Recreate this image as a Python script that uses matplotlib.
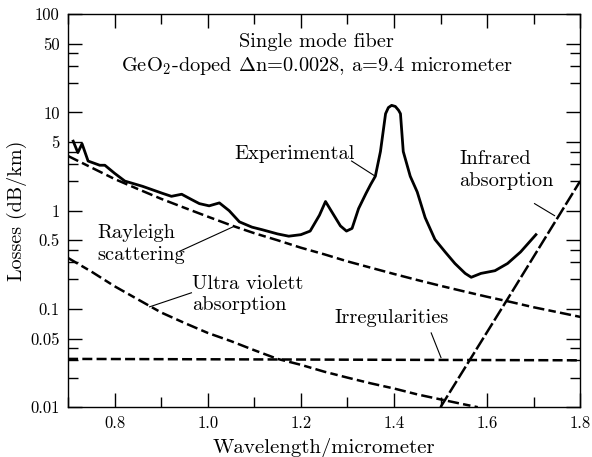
import numpy as np
import matplotlib
matplotlib.use("Agg")
import matplotlib.pyplot as plt
from matplotlib.ticker import FixedLocator, NullFormatter

plt.rcParams['font.family'] = ['cmr10', 'DejaVu Serif']
plt.rcParams['mathtext.fontset'] = 'cm'
plt.rcParams['axes.unicode_minus'] = False

exp_wl = [0.711, 0.721, 0.730, 0.743, 0.768, 0.779, 0.800, 0.822, 0.860, 0.903,
          0.922, 0.944, 0.965, 0.982, 1.003, 1.025, 1.046, 1.068, 1.095, 1.117, 1.150,
          1.174, 1.200, 1.220, 1.240, 1.253, 1.265, 1.285, 1.298, 1.310, 1.324,
          1.340, 1.350, 1.360, 1.371, 1.382, 1.388, 1.395, 1.403, 1.410, 1.414,
          1.420, 1.435, 1.450, 1.467, 1.488, 1.510, 1.531, 1.553, 1.566, 1.587,
          1.617, 1.644, 1.672, 1.705]
exp_loss = [5.1, 3.9, 4.8, 3.2, 2.9, 2.9, 2.4, 2.0, 1.77, 1.5,
            1.4, 1.47, 1.3, 1.18, 1.12, 1.2, 1.0, 0.77, 0.68, 0.64, 0.58,
            0.55, 0.57, 0.62, 0.9, 1.24, 1.0, 0.7, 0.62, 0.66, 1.05,
            1.5, 1.85, 2.24, 4.0, 9.7, 11.2, 11.8, 11.5, 10.5, 9.7,
            4.0, 2.24, 1.55, 0.85, 0.51, 0.38, 0.29, 0.23, 0.21, 0.23,
            0.245, 0.29, 0.38, 0.57]

ray_wl = [0.70, 0.75, 0.80, 0.85, 0.90, 0.95, 1.00, 1.05, 1.10, 1.15, 1.20, 1.25,
          1.30, 1.35, 1.40, 1.45, 1.50, 1.55, 1.60, 1.65, 1.70, 1.75, 1.80]
ray_loss = [3.6, 2.75, 2.1, 1.66, 1.32, 1.07, 0.87, 0.71, 0.59, 0.50, 0.42, 0.36,
            0.305, 0.263, 0.227, 0.197, 0.172, 0.151, 0.133, 0.118, 0.104, 0.093, 0.083]

uv_wl = [0.70, 0.75, 0.80, 0.85, 0.90, 0.95, 1.00, 1.05, 1.10, 1.15, 1.20, 1.25,
         1.30, 1.35, 1.40, 1.45, 1.50, 1.55, 1.58]
uv_loss = [0.33, 0.24, 0.17, 0.125, 0.092, 0.072, 0.057, 0.047, 0.038, 0.031, 0.027,
           0.023, 0.020, 0.0175, 0.0155, 0.0135, 0.012, 0.0107, 0.0100]

irr_wl = [0.70, 1.80]
irr_loss = [0.031, 0.030]

ir_wl = [1.50, 1.65, 1.80]
ir_loss = [0.01, 0.14, 2.0]

xticks = [0.8, 1.0, 1.2, 1.4, 1.6, 1.8]
yticks = [0.01, 0.05, 0.1, 0.5, 1, 5, 10, 50, 100]
ylabels = ['0.01', '0.05', '0.1', '0.5', '1', '5', '10', '50', '100']

fig = plt.figure(figsize=(5.92, 4.57), dpi=100)
ax = fig.add_axes([0.115, 0.109, 0.865, 0.860])

ax.plot(exp_wl, exp_loss, color='black', lw=2.0, solid_joinstyle='round')
ax.plot(ray_wl, ray_loss, color='black', lw=1.8, dashes=(4.5, 1.7, 3, 1.7))
ax.plot(uv_wl, uv_loss, color='black', lw=1.8, dashes=(4.5, 1.7, 3, 1.7))
ax.plot(irr_wl, irr_loss, color='black', lw=1.8, dashes=(4, 1.7))
ax.plot(ir_wl, ir_loss, color='black', lw=1.8, dashes=(5.5, 1.3))

ax.set_yscale('log')
ax.set_xlim(0.7, 1.8)
ax.set_ylim(0.01, 100)

ax.set_xticks(xticks)
ax.set_xticklabels(['%.1f' % v for v in xticks])
ax.xaxis.set_minor_locator(FixedLocator(np.arange(0.7, 1.81, 0.1)))
ax.yaxis.set_major_locator(FixedLocator(yticks))
ax.set_yticklabels(ylabels)
minor_y = [m * d for d in [0.01, 0.1, 1, 10] for m in (2, 3, 4)]
ax.yaxis.set_minor_locator(FixedLocator(minor_y))
ax.yaxis.set_minor_formatter(NullFormatter())
ax.tick_params(which='both', direction='in', top=True, right=True, labelsize=12)
ax.tick_params(which='major', length=10, width=1, pad=6)
ax.tick_params(which='minor', length=7, width=1)
for s in ax.spines.values():
    s.set_linewidth(1)

ax.set_xlabel('Wavelength/micrometer', fontsize=15, labelpad=5)
ax.set_ylabel('Losses (dB/km)', fontsize=14.5, labelpad=2)

fs = 14.7
ax.text(1.234, 52, 'Single mode fiber', ha='center', va='center', fontsize=fs)
ax.text(1.234, 30, r'GeO$_2$-doped $\Delta$n=0.0028, a=9.4 micrometer',
        ha='center', va='center', fontsize=fs)
ax.text(1.187, 3.8, 'Experimental', ha='center', va='center', fontsize=fs)
ax.plot([1.309, 1.360], [3.2, 2.24], color='black', lw=0.8)
ax.text(1.540, 2.6, 'Infrared\nabsorption', ha='left', va='center', fontsize=fs,
        linespacing=1.25)
ax.plot([1.702, 1.745], [1.18, 0.89], color='black', lw=0.8)
ax.text(0.762, 0.46, 'Rayleigh\nscattering', ha='left', va='center', fontsize=fs,
        linespacing=1.25)
ax.plot([0.939, 1.053], [0.385, 0.68], color='black', lw=0.8)
ax.text(0.967, 0.14, 'Ultra violett\nabsorption', ha='left', va='center', fontsize=fs,
        linespacing=1.25)
ax.plot([0.965, 0.875], [0.146, 0.105], color='black', lw=0.8)
ax.text(1.395, 0.081, 'Irregularities', ha='center', va='center', fontsize=fs)
ax.plot([1.480, 1.501], [0.057, 0.032], color='black', lw=0.8)

fig.savefig('out.png', dpi=100)
